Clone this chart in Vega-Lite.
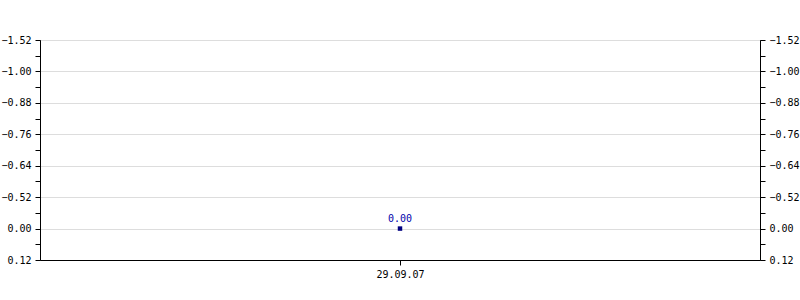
{
  "$schema": "https://vega.github.io/schema/vega-lite/v6.json",
  "autosize": {"type": "none"},
  "width": 720,
  "height": 220,
  "padding": {"left": 40, "top": 40, "right": 40, "bottom": 40},
  "background": "white",
  "config": {
    "view": {"stroke": "black", "strokeWidth": 1},
    "axis": {
      "labelFont": "DejaVu Sans Mono",
      "labelFontSize": 10,
      "labelColor": "black",
      "domainColor": "black",
      "tickColor": "black",
      "tickSize": 5,
      "domainWidth": 1,
      "tickWidth": 1
    }
  },
  "data": {"values": [{"date": "29.09.07", "value": 0.0}]},
  "encoding": {
    "x": {
      "field": "date",
      "type": "ordinal",
      "scale": {"type": "point", "padding": 0.5},
      "axis": {"title": null, "labelAngle": 0, "grid": false, "labelPadding": 4}
    }
  },
  "resolve": {"axis": {"y": "independent"}},
  "layer": [
    {
      "mark": {"type": "point", "shape": "square", "filled": true, "size": 20, "color": "#000080", "opacity": 1},
      "encoding": {
        "y": {
          "field": "value",
          "type": "quantitative",
          "scale": {
            "type": "linear",
            "domain": [0.12, 0, -0.52, -0.64, -0.76, -0.88, -1.0, -1.52],
            "range": [220, 188.571, 157.143, 125.714, 94.286, 62.857, 31.429, 0],
            "zero": false,
            "nice": false
          },
          "axis": {
            "title": null,
            "orient": "left",
            "values": [0.12, 0.06, 0, -0.26, -0.52, -0.58, -0.64, -0.7, -0.76, -0.82, -0.88, -0.94, -1.0, -1.26, -1.52],
            "labelExpr": "indexof([0.06, -0.26, -0.58, -0.7, -0.82, -0.94, -1.26], datum.value) >= 0 ? '' : format(datum.value, '.2f')",
            "grid": true,
            "gridColor": "#dddddd",
            "gridOpacity": {"condition": {"test": "indexof([0.06, -0.26, -0.58, -0.7, -0.82, -0.94, -1.26], datum.value) >= 0", "value": 0}, "value": 1},
            "labelPadding": 4
          }
        }
      }
    },
    {
      "mark": {"type": "text", "font": "DejaVu Sans Mono", "fontSize": 10, "color": "#0000aa", "dy": -10},
      "encoding": {
        "y": {"field": "value", "type": "quantitative", "axis": null},
        "text": {"field": "value", "type": "quantitative", "format": ".2f"}
      }
    },
    {
      "mark": {"type": "point", "opacity": 0},
      "encoding": {
        "y": {
          "field": "value",
          "type": "quantitative",
          "axis": {
            "title": null,
            "orient": "right",
            "values": [0.12, 0.06, 0, -0.26, -0.52, -0.58, -0.64, -0.7, -0.76, -0.82, -0.88, -0.94, -1.0, -1.26, -1.52],
            "labelExpr": "indexof([0.06, -0.26, -0.58, -0.7, -0.82, -0.94, -1.26], datum.value) >= 0 ? '' : format(datum.value, '.2f')",
            "grid": false,
            "labelPadding": 4
          }
        }
      }
    }
  ]
}
